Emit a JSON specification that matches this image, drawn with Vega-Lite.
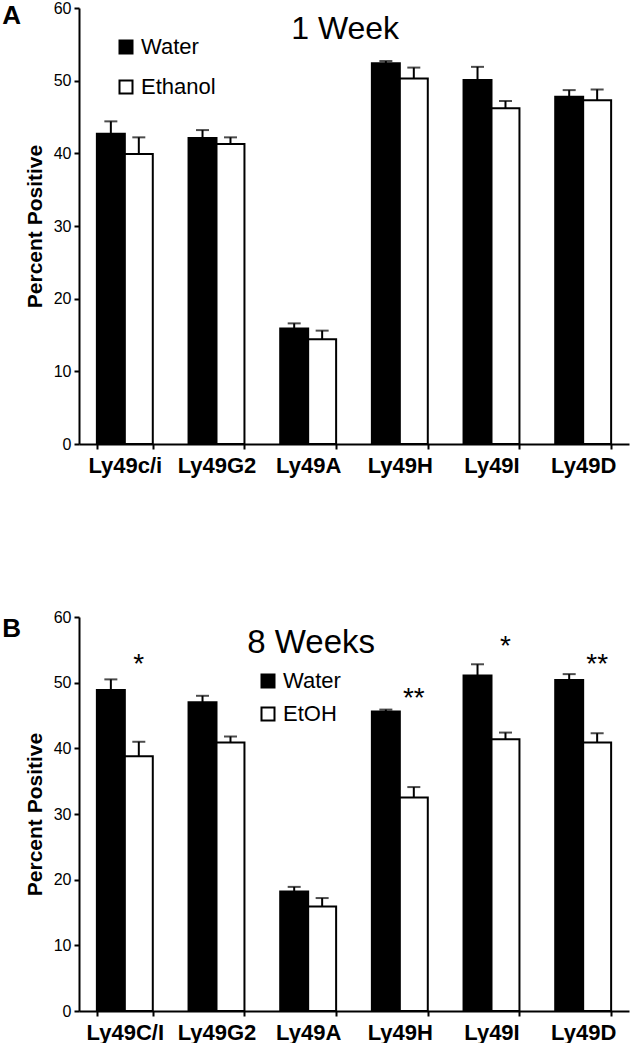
{
  "$schema": "https://vega.github.io/schema/vega-lite/v6.json",
  "background": "white",
  "padding": {"left": 2, "top": 0, "right": 5, "bottom": 0},
  "spacing": 133,
  "config": {
    "font": "Liberation Sans",
    "view": {"stroke": null},
    "axis": {
      "domainColor": "black", "domainWidth": 2,
      "tickColor": "black", "tickWidth": 2, "tickSize": 5,
      "labelColor": "black", "titleColor": "black", "grid": false,
      "labelFont": "Liberation Sans", "titleFont": "Liberation Sans"
    },
    "axisX": {"labelFontSize": 22, "labelFontWeight": "bold", "labelAngle": 0, "labelPadding": 6, "tickBand": "extent"},
    "axisY": {"labelFontSize": 16, "labelPadding": 3, "titleFontSize": 21, "titleFontWeight": "bold", "titlePadding": 8},
    "legend": {"labelFont": "Liberation Sans", "labelColor": "black"}
  },
  "datasets": {
    "barsA": [
      {"gene": "Ly49c/i", "group": "Water", "value": 42.7, "hi": 44.4},
      {"gene": "Ly49c/i", "group": "Ethanol", "value": 39.9, "hi": 42.2},
      {"gene": "Ly49G2", "group": "Water", "value": 42.1, "hi": 43.2},
      {"gene": "Ly49G2", "group": "Ethanol", "value": 41.3, "hi": 42.2},
      {"gene": "Ly49A", "group": "Water", "value": 15.9, "hi": 16.6},
      {"gene": "Ly49A", "group": "Ethanol", "value": 14.4, "hi": 15.6},
      {"gene": "Ly49H", "group": "Water", "value": 52.4, "hi": 52.7},
      {"gene": "Ly49H", "group": "Ethanol", "value": 50.3, "hi": 51.8},
      {"gene": "Ly49I", "group": "Water", "value": 50.1, "hi": 51.9},
      {"gene": "Ly49I", "group": "Ethanol", "value": 46.2, "hi": 47.2},
      {"gene": "Ly49D", "group": "Water", "value": 47.8, "hi": 48.7},
      {"gene": "Ly49D", "group": "Ethanol", "value": 47.3, "hi": 48.8}
    ],
    "barsB": [
      {"gene": "Ly49C/I", "group": "Water", "value": 48.9, "hi": 50.5},
      {"gene": "Ly49C/I", "group": "EtOH", "value": 38.8, "hi": 41.0},
      {"gene": "Ly49G2", "group": "Water", "value": 47.0, "hi": 48.0},
      {"gene": "Ly49G2", "group": "EtOH", "value": 40.9, "hi": 41.8},
      {"gene": "Ly49A", "group": "Water", "value": 18.2, "hi": 18.9},
      {"gene": "Ly49A", "group": "EtOH", "value": 15.9, "hi": 17.2},
      {"gene": "Ly49H", "group": "Water", "value": 45.6, "hi": 45.9},
      {"gene": "Ly49H", "group": "EtOH", "value": 32.5, "hi": 34.1},
      {"gene": "Ly49I", "group": "Water", "value": 51.1, "hi": 52.8},
      {"gene": "Ly49I", "group": "EtOH", "value": 41.4, "hi": 42.4},
      {"gene": "Ly49D", "group": "Water", "value": 50.4, "hi": 51.3},
      {"gene": "Ly49D", "group": "EtOH", "value": 40.9, "hi": 42.3}
    ],
    "starsB": [
      {"gene": "Ly49C/I", "group": "EtOH", "label": "*", "y": 51.4},
      {"gene": "Ly49H", "group": "EtOH", "label": "**", "y": 46.3},
      {"gene": "Ly49I", "group": "EtOH", "label": "*", "y": 54.2},
      {"gene": "Ly49D", "group": "EtOH", "label": "**", "y": 51.4}
    ],
    "notesA": [{"gene": "Ly49A", "label": "1 Week", "y": 55.8}],
    "notesB": [{"gene": "Ly49A", "label": "8 Weeks", "y": 54.5}]
  },
  "resolve": {"scale": {"fill": "independent", "x": "independent", "y": "independent", "xOffset": "independent"}, "legend": {"fill": "independent"}},
  "vconcat": [
    {
      "title": {"text": "A", "anchor": "start", "frame": "bounds", "fontSize": 26, "fontWeight": "bold", "color": "black", "baseline": "top", "offset": -25, "dx": -22, "dy": 4},
      "width": 550,
      "height": 436,
      "layer": [
        {
          "data": {"name": "barsA"},
          "mark": {"type": "bar", "stroke": "black", "strokeWidth": 2},
          "encoding": {
            "x": {"field": "gene", "type": "nominal", "sort": ["Ly49c/i", "Ly49G2", "Ly49A", "Ly49H", "Ly49I", "Ly49D"], "scale": {"paddingInner": 0.39, "paddingOuter": 0.195}, "axis": {"title": null}},
            "xOffset": {"field": "group", "type": "nominal", "sort": ["Water", "Ethanol"], "scale": {"paddingInner": 0, "paddingOuter": 0}},
            "y": {"field": "value", "type": "quantitative", "scale": {"domain": [0, 60], "nice": false}, "axis": {"title": "Percent Positive", "values": [0, 10, 20, 30, 40, 50, 60]}},
            "fill": {"field": "group", "type": "nominal", "sort": ["Water", "Ethanol"], "scale": {"domain": ["Water", "Ethanol"], "range": ["black", "white"]},
              "legend": {"orient": "none", "legendX": 36, "legendY": 28, "direction": "vertical", "title": null, "symbolType": "square", "symbolSize": 169, "symbolStrokeColor": "black", "symbolStrokeWidth": 2, "labelFontSize": 22, "rowPadding": 18, "labelOffset": 4, "padding": 0}}
          }
        },
        {
          "data": {"name": "barsA"},
          "mark": {"type": "rule", "color": "black", "strokeWidth": 2},
          "encoding": {
            "x": {"field": "gene", "type": "nominal", "sort": ["Ly49c/i", "Ly49G2", "Ly49A", "Ly49H", "Ly49I", "Ly49D"]},
            "xOffset": {"field": "group", "type": "nominal", "sort": ["Water", "Ethanol"]},
            "y": {"field": "value", "type": "quantitative", "title": "Percent Positive"},
            "y2": {"field": "hi"}
          }
        },
        {
          "data": {"name": "barsA"},
          "mark": {"type": "tick", "color": "black", "thickness": 2, "size": 13},
          "encoding": {
            "x": {"field": "gene", "type": "nominal", "sort": ["Ly49c/i", "Ly49G2", "Ly49A", "Ly49H", "Ly49I", "Ly49D"]},
            "xOffset": {"field": "group", "type": "nominal", "sort": ["Water", "Ethanol"]},
            "y": {"field": "hi", "type": "quantitative", "title": "Percent Positive"}
          }
        },
        {
          "data": {"name": "notesA"},
          "mark": {"type": "text", "fontSize": 32, "align": "center", "baseline": "alphabetic", "dx": 37, "color": "black"},
          "encoding": {
            "x": {"field": "gene", "type": "nominal", "sort": ["Ly49c/i", "Ly49G2", "Ly49A", "Ly49H", "Ly49I", "Ly49D"]},
            "y": {"field": "y", "type": "quantitative", "title": "Percent Positive"},
            "text": {"field": "label"}
          }
        }
      ]
    },
    {
      "title": {"text": "B", "anchor": "start", "frame": "bounds", "fontSize": 26, "fontWeight": "bold", "color": "black", "baseline": "top", "offset": -25, "dx": -22, "dy": 8},
      "width": 550,
      "height": 394,
      "layer": [
        {
          "data": {"name": "barsB"},
          "mark": {"type": "bar", "stroke": "black", "strokeWidth": 2},
          "encoding": {
            "x": {"field": "gene", "type": "nominal", "sort": ["Ly49C/I", "Ly49G2", "Ly49A", "Ly49H", "Ly49I", "Ly49D"], "scale": {"paddingInner": 0.39, "paddingOuter": 0.195}, "axis": {"title": null}},
            "xOffset": {"field": "group", "type": "nominal", "sort": ["Water", "EtOH"], "scale": {"paddingInner": 0, "paddingOuter": 0}},
            "y": {"field": "value", "type": "quantitative", "scale": {"domain": [0, 60], "nice": false}, "axis": {"title": "Percent Positive", "values": [0, 10, 20, 30, 40, 50, 60]}},
            "fill": {"field": "group", "type": "nominal", "sort": ["Water", "EtOH"], "scale": {"domain": ["Water", "EtOH"], "range": ["black", "white"]},
              "legend": {"orient": "none", "legendX": 178, "legendY": 53, "direction": "vertical", "title": null, "symbolType": "square", "symbolSize": 169, "symbolStrokeColor": "black", "symbolStrokeWidth": 2, "labelFontSize": 22, "rowPadding": 11, "labelOffset": 4, "padding": 0}}
          }
        },
        {
          "data": {"name": "barsB"},
          "mark": {"type": "rule", "color": "black", "strokeWidth": 2},
          "encoding": {
            "x": {"field": "gene", "type": "nominal", "sort": ["Ly49C/I", "Ly49G2", "Ly49A", "Ly49H", "Ly49I", "Ly49D"]},
            "xOffset": {"field": "group", "type": "nominal", "sort": ["Water", "EtOH"]},
            "y": {"field": "value", "type": "quantitative", "title": "Percent Positive"},
            "y2": {"field": "hi"}
          }
        },
        {
          "data": {"name": "barsB"},
          "mark": {"type": "tick", "color": "black", "thickness": 2, "size": 13},
          "encoding": {
            "x": {"field": "gene", "type": "nominal", "sort": ["Ly49C/I", "Ly49G2", "Ly49A", "Ly49H", "Ly49I", "Ly49D"]},
            "xOffset": {"field": "group", "type": "nominal", "sort": ["Water", "EtOH"]},
            "y": {"field": "hi", "type": "quantitative", "title": "Percent Positive"}
          }
        },
        {
          "data": {"name": "starsB"},
          "mark": {"type": "text", "fontSize": 28, "align": "center", "baseline": "alphabetic", "color": "black"},
          "encoding": {
            "x": {"field": "gene", "type": "nominal", "sort": ["Ly49C/I", "Ly49G2", "Ly49A", "Ly49H", "Ly49I", "Ly49D"]},
            "xOffset": {"field": "group", "type": "nominal", "sort": ["Water", "EtOH"]},
            "y": {"field": "y", "type": "quantitative", "title": "Percent Positive"},
            "text": {"field": "label"}
          }
        },
        {
          "data": {"name": "notesB"},
          "mark": {"type": "text", "fontSize": 33, "align": "center", "baseline": "alphabetic", "dx": 3, "color": "black"},
          "encoding": {
            "x": {"field": "gene", "type": "nominal", "sort": ["Ly49C/I", "Ly49G2", "Ly49A", "Ly49H", "Ly49I", "Ly49D"]},
            "y": {"field": "y", "type": "quantitative", "title": "Percent Positive"},
            "text": {"field": "label"}
          }
        }
      ]
    }
  ]
}
